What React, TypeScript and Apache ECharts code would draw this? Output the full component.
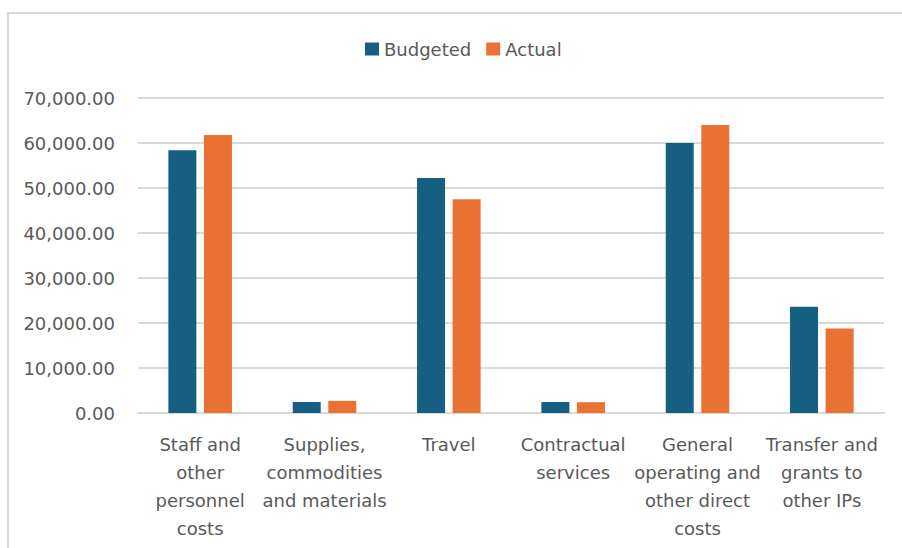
import React, { useEffect, useRef } from "react";
import * as echarts from "echarts";

const categories = [
  "Staff and\nother\npersonnel\ncosts",
  "Supplies,\ncommodities\nand materials",
  "Travel",
  "Contractual\nservices",
  "General\noperating and\nother direct\ncosts",
  "Transfer and\ngrants to\nother IPs",
];
const budgeted = [58400, 2450, 52200, 2450, 60000, 23600];
const actual = [61800, 2700, 47500, 2400, 64000, 18800];
const seriesNames = ["Budgeted", "Actual"];
const yMax = 70000;
const yInterval = 10000;

const FONT = "'DejaVu Sans', sans-serif";
const TEXT = "#595959";
const GRIDC = "#d9d9d9";

export default function App() {
  const ref = useRef<HTMLDivElement>(null);
  useEffect(() => {
    if (!ref.current) return;
    const chart = echarts.init(ref.current, undefined, { renderer: "svg" });
    chart.setOption({
      animation: false,
      backgroundColor: "#ffffff",
      textStyle: { fontFamily: FONT },
      graphic: [
        {
          type: "rect",
          shape: { x: 8, y: 13, width: 1000, height: 1000 },
          style: { fill: "none", stroke: GRIDC, lineWidth: 2 },
          silent: true,
        },
      ],
      legend: {
        left: 360,
        top: 35,
        itemWidth: 14,
        itemHeight: 13,
        itemGap: 15,
        icon: "rect",
        textStyle: { color: TEXT, fontSize: 18, fontFamily: FONT },
        data: seriesNames,
      },
      grid: { left: 138, right: 18, top: 98, bottom: 135, containLabel: false },
      xAxis: {
        type: "category",
        data: categories,
        axisLine: { show: true, lineStyle: { color: GRIDC, width: 2 } },
        axisTick: { show: false },
        axisLabel: {
          color: TEXT,
          fontSize: 18,
          fontFamily: FONT,
          lineHeight: 28,
          margin: 17,
          interval: 0,
          align: "center",
        },
      },
      yAxis: {
        type: "value",
        min: 0,
        max: yMax,
        interval: yInterval,
        axisLine: { show: false },
        axisTick: { show: false },
        splitLine: { lineStyle: { color: GRIDC, width: 2 } },
        axisLabel: {
          color: TEXT,
          fontSize: 18,
          fontFamily: FONT,
          margin: 23,
          formatter: (v: number) =>
            v.toLocaleString("en-US", { minimumFractionDigits: 2, maximumFractionDigits: 2 }),
        },
      },
      series: [
        {
          name: seriesNames[0],
          type: "bar",
          data: budgeted,
          barWidth: 28,
          barGap: "27%",
          itemStyle: { color: "#156082" },
        },
        {
          name: seriesNames[1],
          type: "bar",
          data: actual,
          barWidth: 28,
          barGap: "27%",
          itemStyle: { color: "#E97132" },
        },
      ],
    });
    return () => chart.dispose();
  }, []);
  return (
    <div
      ref={ref}
      style={{ position: "absolute", left: 0, top: 0, width: 902, height: 548 }}
    />
  );
}
